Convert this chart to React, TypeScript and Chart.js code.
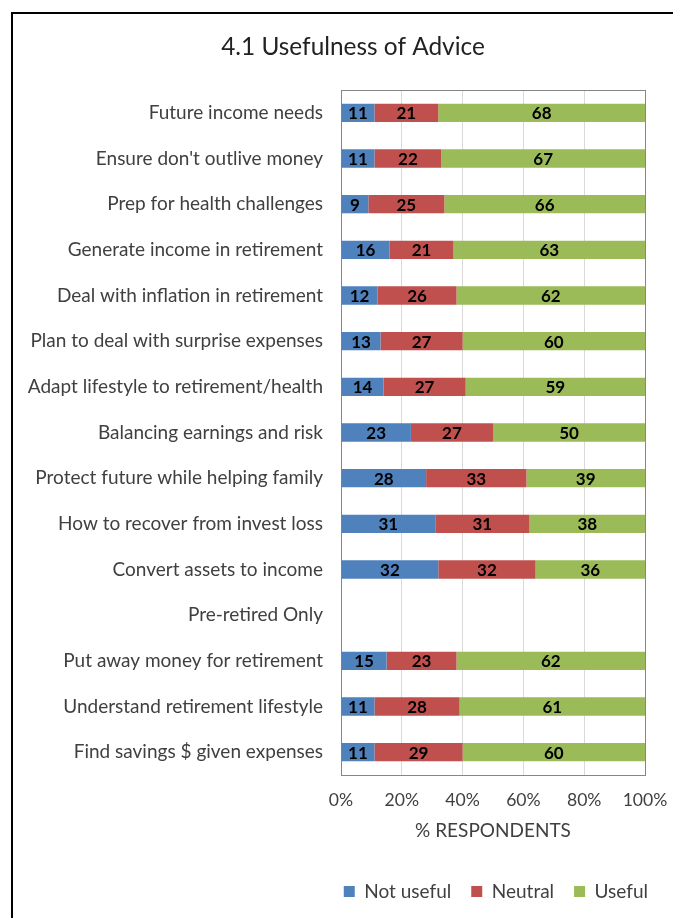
import React, { useEffect, useRef } from "react";
import { Chart, registerables } from "chart.js";

Chart.register(...registerables);

const categories = [
  "Future income needs",
  "Ensure don't outlive money",
  "Prep for health challenges",
  "Generate income in retirement",
  "Deal with inflation in retirement",
  "Plan to deal with surprise expenses",
  "Adapt lifestyle to retirement/health",
  "Balancing earnings and risk",
  "Protect future while helping family",
  "How to recover from invest loss",
  "Convert assets to income",
  "Pre-retired Only",
  "Put away money for retirement",
  "Understand retirement lifestyle",
  "Find savings $ given expenses",
];

const notUseful = [11, 11, 9, 16, 12, 13, 14, 23, 28, 31, 32, null, 15, 11, 11];
const neutral = [21, 22, 25, 21, 26, 27, 27, 27, 33, 31, 32, null, 23, 28, 29];
const useful = [68, 67, 66, 63, 62, 60, 59, 50, 39, 38, 36, null, 62, 61, 60];

const seriesNames = ["Not useful", "Neutral", "Useful"];
const seriesColors = ["#4F81BD", "#C0504D", "#9BBB59"];
const xTicks = [0, 20, 40, 60, 80, 100];
const chartTitle = "4.1 Usefulness of Advice";

const FONT = "Lato, 'Liberation Sans', sans-serif";
const LEGEND_PAD = 20;
const LEGEND_FONT = 19;
const BOTTOM_PAD = 7;
const CANVAS_W = 660;
const CANVAS_H = 904;
const LEGEND_TOP = CANVAS_H - BOTTOM_PAD - (LEGEND_FONT + LEGEND_PAD + 10);
const TITLE_X = 340;
const TITLE_Y = 33;

const plotBorder = {
  id: "plotBorder",
  beforeDatasetsDraw(chart: any) {
    const { ctx, chartArea } = chart;
    ctx.save();
    ctx.strokeStyle = "#868686";
    ctx.lineWidth = 1;
    ctx.strokeRect(
      Math.round(chartArea.left) + 0.5,
      Math.round(chartArea.top) + 0.5,
      Math.round(chartArea.right - chartArea.left),
      Math.round(chartArea.bottom - chartArea.top)
    );
    ctx.restore();
  },
};

const titlePlugin = {
  id: "titleText",
  afterDraw(chart: any) {
    const { ctx } = chart;
    ctx.save();
    ctx.font = `24.4px ${FONT}`;
    ctx.fillStyle = "#222";
    ctx.textAlign = "center";
    ctx.textBaseline = "middle";
    ctx.fillText(chartTitle, TITLE_X, TITLE_Y);
    ctx.restore();
  },
};

const barLabels = {
  id: "barLabels",
  afterDatasetsDraw(chart: any) {
    const { ctx } = chart;
    ctx.save();
    ctx.font = `bold 17px ${FONT}`;
    ctx.fillStyle = "#000";
    ctx.textAlign = "center";
    ctx.textBaseline = "middle";
    chart.data.datasets.forEach((ds: any, di: number) => {
      const meta = chart.getDatasetMeta(di);
      meta.data.forEach((el: any, i: number) => {
        const v = ds.data[i];
        if (v === null || v === undefined) return;
        const cx = (el.x + el.base) / 2;
        ctx.fillText(String(v), cx, el.y + 1);
      });
    });
    ctx.restore();
  },
};

export default function App() {
  const ref = useRef<HTMLCanvasElement | null>(null);

  useEffect(() => {
    if (!ref.current) return;
    const chart = new Chart(ref.current, {
      type: "bar",
      data: {
        labels: categories,
        datasets: [notUseful, neutral, useful].map((d, i) => ({
          label: seriesNames[i],
          data: d as any,
          backgroundColor: seriesColors[i],
          borderWidth: 0,
          categoryPercentage: 1,
          barPercentage: 0.4,
        })),
      },
      options: {
        responsive: false,
        animation: false,
        indexAxis: "y",
        layout: {
          padding: { left: 0, top: 76, right: 25 - LEGEND_PAD, bottom: BOTTOM_PAD },
        },
        plugins: {
          tooltip: { enabled: false },
          title: { display: false },
          legend: {
            position: "bottom",
            align: "end",
            labels: {
              boxWidth: 11,
              boxHeight: 11,
              padding: LEGEND_PAD,
              color: "#404040",
              font: { family: FONT, size: LEGEND_FONT },
            },
          },
        },
        scales: {
          x: {
            stacked: true,
            min: 0,
            max: 100,
            afterBuildTicks(scale: any) {
              scale.ticks = xTicks.map((v) => ({ value: v }));
            },
            afterFit(scale: any) {
              scale.height = LEGEND_TOP - 761;
              scale.paddingRight = 28;
            },
            grid: { color: "#D9D9D9", drawTicks: false },
            border: { display: false },
            ticks: {
              padding: 14.4,
              color: "#404040",
              font: { family: FONT, size: 17.6 },
              callback: (v: any) => v + "%",
            },
            title: {
              display: true,
              text: "% RESPONDENTS",
              color: "#404040",
              font: { family: FONT, size: 19, lineHeight: 1.2 },
              padding: { top: 0, bottom: LEGEND_TOP - 11.4 - 817 },
            },
          },
          y: {
            stacked: true,
            afterFit(scale: any) {
              scale.width = 328;
            },
            grid: { display: false, drawTicks: false },
            border: { display: false },
            ticks: {
              padding: 18,
              color: "#404040",
              font: { family: FONT, size: 19 },
              autoSkip: false,
            },
          },
        },
      },
      plugins: [plotBorder, barLabels, titlePlugin],
    });
    return () => chart.destroy();
  }, []);

  return (
    <div
      style={{
        position: "absolute",
        left: 11,
        top: 12,
        width: 662,
        height: 906,
        borderTop: "2px solid #000",
        borderLeft: "2px solid #000",
        boxSizing: "border-box",
        background: "#fff",
        overflow: "hidden",
      }}
    >
      <canvas ref={ref} width={CANVAS_W} height={CANVAS_H} style={{ display: "block" }} />
    </div>
  );
}
